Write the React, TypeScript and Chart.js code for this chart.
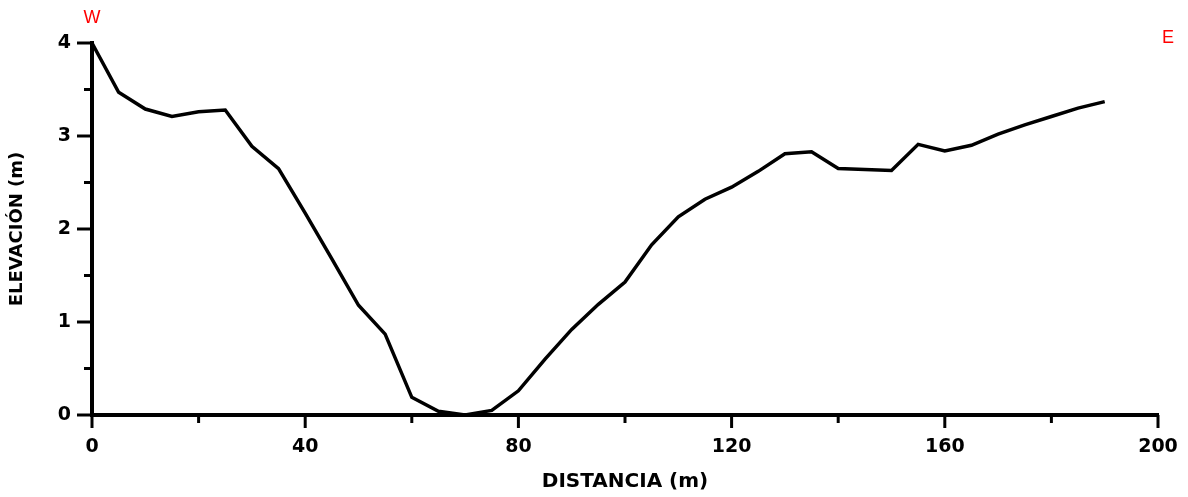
import React, { useEffect, useRef } from "react";
import { Chart, registerables } from "chart.js";

Chart.register(...registerables);

const distances: number[] = [
  0, 5, 10, 15, 20, 25, 30, 35, 40, 45, 50, 55, 60, 65, 70, 75, 80, 85, 90, 95,
  100, 105, 110, 115, 120, 125, 130, 135, 140, 145, 150, 155, 160, 165, 170,
  175, 180, 185, 190,
];
const elevations: number[] = [
  4.0, 3.47, 3.29, 3.21, 3.26, 3.28, 2.89, 2.65, 2.17, 1.68, 1.18, 0.87, 0.19,
  0.04, 0.0, 0.05, 0.26, 0.6, 0.92, 1.19, 1.43, 1.83, 2.13, 2.32, 2.45, 2.62,
  2.81, 2.83, 2.65, 2.64, 2.63, 2.91, 2.84, 2.9, 3.02, 3.12, 3.21, 3.3, 3.37,
];
const xMajorTicks: number[] = [0, 40, 80, 120, 160, 200];
const xMinorTicks: number[] = [20, 60, 100, 140, 180];
const yMajorTicks: number[] = [0, 1, 2, 3, 4];
const yMinorTicks: number[] = [0.5, 1.5, 2.5, 3.5];
const directionLabels: string[] = ["W", "E"];
const xTitle = "DISTANCIA (m)";
const yTitle = "ELEVACIÓN (m)";

const tickFont = { family: "'DejaVu Sans', sans-serif", size: 19, weight: "bold" as const, lineHeight: 1.2 };
const xTitleFont = { family: "'DejaVu Sans', sans-serif", size: 20, weight: "bold" as const, lineHeight: 1.2 };
const yTitleFont = { family: "'DejaVu Sans', sans-serif", size: 18, weight: "bold" as const, lineHeight: 1.2 };

const customTicks = {
  id: "customTicks",
  afterDraw(chart: any) {
    const { ctx, chartArea, scales } = chart;
    const xs = scales.x;
    const ys = scales.y;
    ctx.save();
    ctx.strokeStyle = "#000";
    ctx.lineWidth = 3;
    ctx.lineCap = "butt";
    const seg = (x1: number, y1: number, x2: number, y2: number) => {
      ctx.beginPath();
      ctx.moveTo(x1, y1);
      ctx.lineTo(x2, y2);
      ctx.stroke();
    };
    for (const v of xMajorTicks) {
      const p = xs.getPixelForValue(v);
      seg(p, chartArea.bottom, p, chartArea.bottom + 13);
    }
    for (const v of xMinorTicks) {
      const p = xs.getPixelForValue(v);
      seg(p, chartArea.bottom, p, chartArea.bottom + 8);
    }
    for (const v of yMajorTicks) {
      const p = ys.getPixelForValue(v);
      seg(chartArea.left - 15, p, chartArea.left, p);
    }
    for (const v of yMinorTicks) {
      const p = ys.getPixelForValue(v);
      seg(chartArea.left - 8, p, chartArea.left, p);
    }
    ctx.fillStyle = "#ff0000";
    ctx.font = "18px 'Liberation Sans', Arial, sans-serif";
    ctx.textAlign = "center";
    ctx.textBaseline = "middle";
    ctx.fillText(directionLabels[0], xs.getPixelForValue(0), chartArea.top - 25);
    ctx.fillText(directionLabels[1], xs.getPixelForValue(200) + 10, chartArea.top - 5);
    ctx.restore();
  },
};

export default function App() {
  const canvasRef = useRef<HTMLCanvasElement | null>(null);

  useEffect(() => {
    if (!canvasRef.current) return;
    const chart = new Chart(canvasRef.current, {
      type: "line",
      data: {
        datasets: [
          {
            data: distances.map((d, i) => ({ x: d, y: elevations[i] })),
            borderColor: "#000",
            borderWidth: 3.5,
            pointRadius: 0,
            tension: 0,
            fill: false,
            clip: false as any,
          },
        ],
      },
      options: {
        animation: false,
        responsive: true,
        maintainAspectRatio: false,
        layout: { padding: { top: 43, right: 30, left: 0, bottom: 0 } },
        plugins: { legend: { display: false }, tooltip: { enabled: false } },
        scales: {
          x: {
            type: "linear",
            min: 0,
            max: 200,
            afterFit: (s: any) => {
              s.height = 82;
              s.paddingLeft = 0;
              s.paddingRight = 0;
            },
            grid: { display: false, drawTicks: false },
            border: { display: true, color: "#000", width: 4 },
            ticks: {
              stepSize: 40,
              color: "#000",
              font: tickFont,
              padding: 21,
              maxRotation: 0,
            },
            title: {
              display: true,
              text: xTitle,
              color: "#000",
              font: xTitleFont,
              padding: { top: 0, bottom: 3 },
            },
          },
          y: {
            type: "linear",
            min: 0,
            max: 4,
            afterFit: (s: any) => {
              s.width = 92;
            },
            grid: { display: false, drawTicks: false },
            border: { display: true, color: "#000", width: 4 },
            ticks: {
              stepSize: 1,
              color: "#000",
              font: tickFont,
              padding: 21,
            },
            title: {
              display: true,
              text: yTitle,
              color: "#000",
              font: yTitleFont,
              padding: { top: 7, bottom: 0 },
            },
          },
        },
      },
      plugins: [customTicks],
    });
    return () => chart.destroy();
  }, []);

  return (
    <div style={{ position: "absolute", left: 0, top: 0, width: 1188, height: 497 }}>
      <canvas ref={canvasRef} />
    </div>
  );
}
